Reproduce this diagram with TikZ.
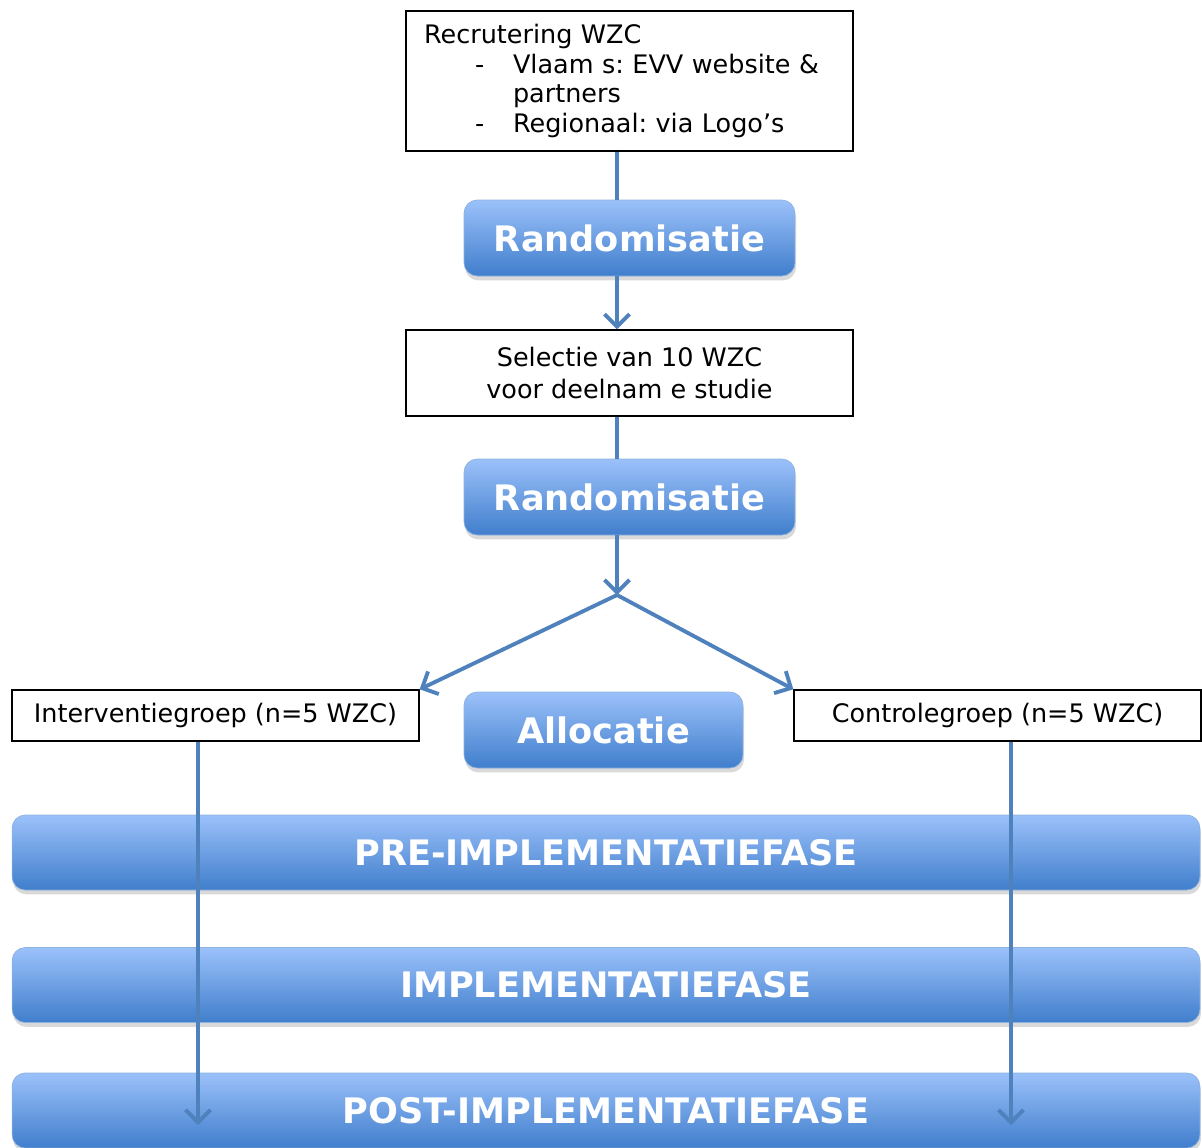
\documentclass[tikz,border=0pt]{standalone}
\usepackage{fontspec}
\setmainfont{DejaVu Sans}
\usetikzlibrary{arrows.meta,shadows}
\definecolor{linkblue}{RGB}{79,129,189}
\definecolor{shadetop}{RGB}{155,193,250}
\definecolor{shadebot}{RGB}{64,126,204}
\newcommand{\dashitem}{\makebox[1.78cm][l]{\hspace*{1.02cm}-}}
\frenchspacing

\begin{document}
\begin{tikzpicture}[x=0.02cm,y=-0.02cm,
  >={Straight Barb[length=2.5mm,width=5mm]},
  plainbox/.style={draw=black,line width=0.8pt,fill=white,inner sep=0pt,
    font=\fontsize{14.5}{17}\selectfont},
  bluebox/.style={rounded corners=7.5pt,draw=shadebot!60!white,line width=0.4pt,
    top color=shadetop,bottom color=shadebot,text=white,
    font=\bfseries\fontsize{20}{24}\selectfont,
    drop shadow={shadow xshift=0.6pt,shadow yshift=-2.5pt,opacity=0.3}},
  conn/.style={draw=linkblue,line width=2.2pt}]
\useasboundingbox (0,0) rectangle (1202,1147);
% ---------- fase bars ----------
\node[bluebox,minimum width=23.76cm,minimum height=1.5cm] (pre) at (606,852.5) {PRE-IMPLEMENTATIEFASE};
\node[bluebox,minimum width=23.76cm,minimum height=1.5cm] (impl) at (606,985) {IMPLEMENTATIEFASE};
\node[bluebox,minimum width=23.76cm,minimum height=1.5cm] (post) at (606,1110.5) {POST-IMPLEMENTATIEFASE};
% ---------- boxes ----------
\node[plainbox,minimum width=8.94cm,minimum height=2.8cm,text width=8.22cm,align=left] (rec) at (629.5,81)
  {Recrutering WZC\\
   \dashitem Vlaam s: EVV website \&\\
   \hspace*{1.78cm}partners\\
   \dashitem Regionaal: via Logo’s};
\node[bluebox,minimum width=6.62cm,minimum height=1.52cm] (rand1) at (629.5,238) {Randomisatie};
\node[plainbox,minimum width=8.94cm,minimum height=1.72cm,align=center,
  font=\fontsize{14.5}{18}\selectfont] (sel) at (629.5,373)
  {Selectie van 10 WZC\\voor deelnam e studie};
\node[bluebox,minimum width=6.62cm,minimum height=1.52cm] (rand2) at (629.5,497) {Randomisatie};
\node[bluebox,minimum width=5.58cm,minimum height=1.52cm] (alloc) at (603.5,730) {Allocatie};
\node[plainbox,minimum width=8.14cm,minimum height=1.02cm] (interv) at (215.5,715.5) {Interventiegroep (n=5 WZC)};
\node[plainbox,minimum width=8.14cm,minimum height=1.02cm] (ctrl) at (997.5,715.5) {Controlegroep (n=5 WZC)};
% ---------- connectors ----------
\coordinate (split) at (617,595);
\coordinate (lend) at (198,1125);
\coordinate (rend) at (1011,1125);
\draw[conn] (rec.south -| split) -- (rand1.north -| split);
\draw[conn,->] (rand1.south -| split) -- (sel.north -| split);
\draw[conn] (sel.south -| split) -- (rand2.north -| split);
\draw[conn,->] (rand2.south -| split) -- (split);
\draw[conn,->] (split) -- (interv.north east);
\draw[conn,->] (split) -- (ctrl.north west);
\draw[conn,->] (interv.south -| lend) -- (lend);
\draw[conn,->] (ctrl.south -| rend) -- (rend);
\end{tikzpicture}
\end{document}
